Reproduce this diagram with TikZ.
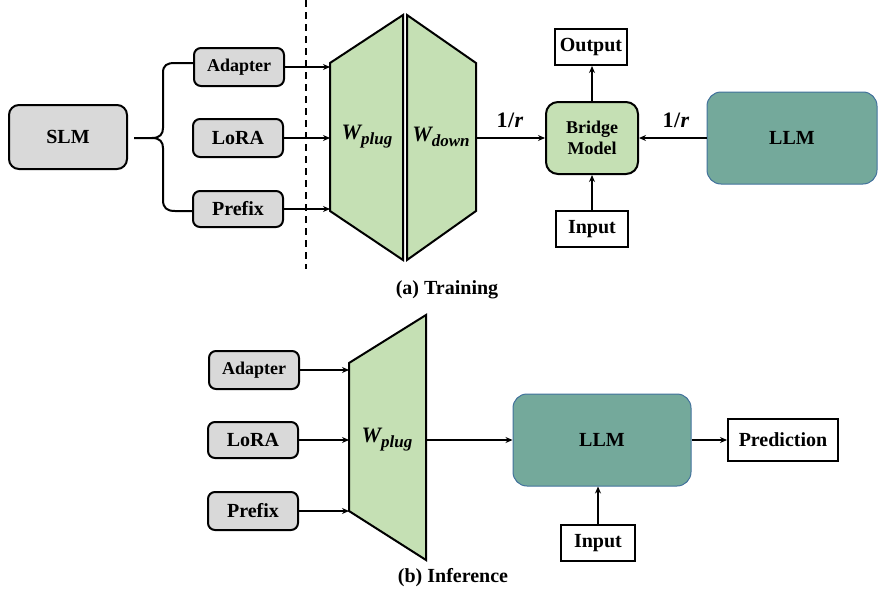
\documentclass[tikz,border=0pt]{standalone}
\usepackage{fontspec}
\setmainfont{Liberation Serif}
\usetikzlibrary{arrows.meta}
\definecolor{boxgray}{HTML}{D9D9D9}
\definecolor{plgreen}{HTML}{C5E0B4}
\definecolor{llmteal}{HTML}{74A99B}
\definecolor{llmedge}{HTML}{41719C}
\newcommand{\fs}[1]{\fontsize{#1}{#1}\selectfont}
\begin{document}
\begin{tikzpicture}[x=1pt,y=-1pt,
  graybox/.style={draw=black,line width=2pt,fill=boxgray,rounded corners=7pt,inner sep=0pt,font=\fs{20}\bfseries},
  plainbox/.style={draw=black,line width=2pt,fill=white,inner sep=0pt,font=\fs{20}\bfseries},
  llmbox/.style={draw=llmedge,line width=1pt,fill=llmteal,rounded corners=14pt,inner sep=0pt,font=\fs{20}\bfseries},
  bridgebox/.style={draw=black,line width=2pt,fill=plgreen,rounded corners=12pt,inner sep=0pt,align=center,font=\fontsize{18}{21}\selectfont\bfseries},
  trap/.style={draw=black,line width=2pt,fill=plgreen,line join=miter},
  conn/.style={draw=black,line width=2pt,-{Stealth[length=7pt,width=6pt]}},
  lbl/.style={inner sep=0pt,font=\fs{20}\bfseries},
  wlabel/.style={inner sep=0pt}
]
\useasboundingbox (0,0) rectangle (879,597);

% ---------- (a) Training ----------
\node[graybox,minimum width=118pt,minimum height=64pt,rounded corners=10pt] (slm) at (68,137) {SLM};
\node[graybox,minimum width=90pt,minimum height=38pt,font=\fs{18}\bfseries] (adapter) at (239,67) {Adapter};
\node[graybox,minimum width=90pt,minimum height=38pt] (lora) at (238,138) {LoRA};
\node[graybox,minimum width=90pt,minimum height=36pt] (prefix) at (238,209) {Prefix};

% brace
\coordinate (brs) at (134,138);
\coordinate (brt) at (adapter.west |- 0,63);
\coordinate (brb) at (prefix.west |- 0,211);
\draw[line width=2pt]
  (brs) -- (152,138) .. controls (160,138) and (163,134) .. (163,128)
  -- (163,73) .. controls (163,65) and (167,63) .. (175,63) -- (brt);
\draw[line width=2pt]
  (152,138) .. controls (160,138) and (163,142) .. (163,148)
  -- (163,200) .. controls (163,208) and (167,211) .. (175,211) -- (brb);

% dashed separator
\coordinate (dsTop) at (306,0);
\coordinate (dsBot) at (306,269);
\draw[line width=1.6pt,dash pattern=on 7pt off 5pt] (dsTop) -- (dsBot);

% trapezoids
\draw[trap] (330,63) -- (403,15) -- (403,260) -- (330,211) -- cycle;
\draw[trap] (407,15) -- (476,63) -- (476,211) -- (407,260) -- cycle;
\node[wlabel] (wplug) at (367,137) {{\fs{22}\bfseries\itshape W}{\fs{17}\bfseries\itshape\raisebox{-5pt}{plug}}};
\node[wlabel] (wdown) at (441,137) {{\fs{22}\bfseries\itshape W}{\fs{17}\bfseries\itshape\raisebox{-5pt}{down}}};

\coordinate (inA) at (330,67);
\coordinate (inL) at (330,138);
\coordinate (inP) at (330,209);
\coordinate (wdOut) at (476,138);
\draw[conn] (adapter.east) -- (inA);
\draw[conn] (lora.east) -- (inL);
\draw[conn] (prefix.east) -- (inP);

\node[bridgebox,minimum width=92pt,minimum height=72pt] (bridge) at (592,138) {Bridge\\Model};
\node[plainbox,minimum width=72pt,minimum height=36pt] (output) at (591,47) {Output};
\node[plainbox,minimum width=72pt,minimum height=36pt] (input) at (592,229) {Input};
\node[llmbox,minimum width=170pt,minimum height=92pt] (llm) at (792,138) {LLM};

\draw[conn] (wdOut) -- (bridge.west);
\draw[conn] (llm.west) -- (bridge.east);
\draw[conn] (bridge.north) -- (bridge.north |- output.south);
\draw[conn] (input.north) -- (bridge.south);

\node[lbl,font=\fs{22}\bfseries] (r1) at (510,120) {1\kern0.5pt/\kern0.5pt\textit{r}};
\node[lbl,font=\fs{22}\bfseries] (r2) at (676,120) {1\kern0.5pt/\kern0.5pt\textit{r}};
\node[lbl] (capa) at (447,290) {(a) Training};

% ---------- (b) Inference ----------
\node[graybox,minimum width=90pt,minimum height=38pt,font=\fs{18}\bfseries] (adapter2) at (254,370) {Adapter};
\node[graybox,minimum width=90pt,minimum height=36pt] (lora2) at (253,440) {LoRA};
\node[graybox,minimum width=90pt,minimum height=38pt] (prefix2) at (253,511) {Prefix};

\draw[trap] (349,363) -- (426,315) -- (426,560) -- (349,511) -- cycle;
\node[wlabel] (wplug2) at (387,440) {{\fs{22}\bfseries\itshape W}{\fs{17}\bfseries\itshape\raisebox{-5pt}{plug}}};
\coordinate (in2A) at (349,370);
\coordinate (in2L) at (349,440);
\coordinate (in2P) at (349,511);
\coordinate (wp2Out) at (426,440);
\draw[conn] (adapter2.east) -- (in2A);
\draw[conn] (lora2.east) -- (in2L);
\draw[conn] (prefix2.east) -- (in2P);

\node[llmbox,minimum width=178pt,minimum height=92pt] (llm2) at (602,440) {LLM};
\node[plainbox,minimum width=110pt,minimum height=42pt] (pred) at (783,440) {Prediction};
\node[plainbox,minimum width=74pt,minimum height=36pt] (input2) at (598,543) {Input};

\draw[conn] (wp2Out) -- (llm2.west);
\draw[conn] (llm2.east) -- (pred.west);
\draw[conn] (input2.north) -- (input2.north |- llm2.south);

\node[lbl] (capb) at (453,578) {(b) Inference};
\end{tikzpicture}
\end{document}
